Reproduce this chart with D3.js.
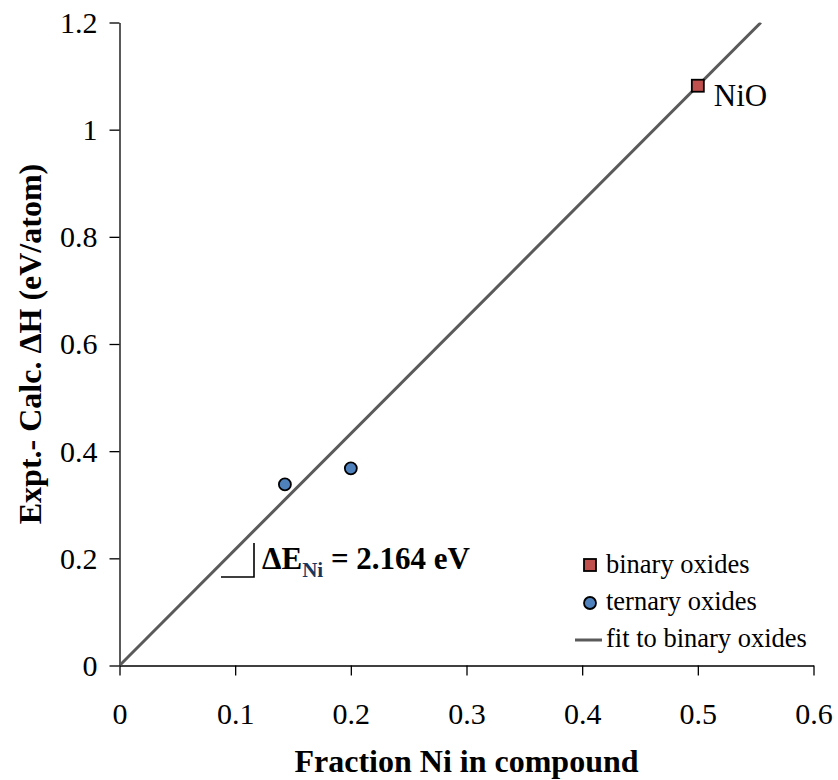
<!DOCTYPE html>
<html>
<head>
<meta charset="utf-8">
<script src="https://cdn.jsdelivr.net/npm/d3@7"></script>
</head>
<body style="margin:0;padding:0;background:#fff">
<svg id="chart" width="838" height="780" font-family="Liberation Serif" style="display:block;font-family:'Liberation Serif'"></svg>
<script>
// Binary oxide (NiO) and ternary oxides: fraction of Ni vs. formation-enthalpy error
const binaryX = [0.5];
const binaryY = [1.082];
const binaryNames = ["NiO"];
const ternaryX = [0.143, 0.2];
const ternaryY = [0.338, 0.368];
const fitSlope = 2.164;
const xTicks = [0, 0.1, 0.2, 0.3, 0.4, 0.5, 0.6];
const yTicks = [0, 0.2, 0.4, 0.6, 0.8, 1, 1.2];
const legendLabels = ["binary oxides", "ternary oxides", "fit to binary oxides"];

const FONT = "Liberation Serif";
const svg = d3.select("#chart");
const x = d3.scaleLinear().domain([0, 0.6]).range([119.5, 813.5]);
const y = d3.scaleLinear().domain([0, 1.2]).range([665.5, 22.5]);

const fmt = d => d === 0 ? "0" : d === 1 ? "1" : String(d);

// Axes
const xAxis = svg.append("g").attr("transform", `translate(0,${y(0)})`)
  .call(d3.axisBottom(x).tickValues(xTicks).tickFormat(fmt).tickSize(10).tickSizeOuter(0));
const yAxis = svg.append("g").attr("transform", `translate(${x(0)},0)`)
  .call(d3.axisLeft(y).tickValues(yTicks).tickFormat(fmt).tickSize(10).tickSizeOuter(0));
[xAxis, yAxis].forEach(g => {
  g.attr("font-family", FONT);
  g.select(".domain").attr("stroke", "#000").attr("stroke-width", 1.3);
  g.selectAll(".tick line").attr("stroke", "#000").attr("stroke-width", 1.3);
  g.selectAll(".tick text").attr("fill", "#000").attr("font-size", 30).attr("font-family", FONT);
});
xAxis.selectAll(".tick text").attr("dy", "0").attr("y", 58);
yAxis.selectAll(".tick text").attr("x", -22).attr("dy", "0.33em");

// Fit line through origin, clipped to the plot area
svg.append("clipPath").attr("id", "plotClip").append("rect")
  .attr("x", x(0)).attr("y", y(1.2)).attr("width", x(0.6) - x(0)).attr("height", y(0) - y(1.2));
const fitEndX = 1.2 / fitSlope;
svg.append("line")
  .attr("clip-path", "url(#plotClip)")
  .attr("x1", x(0)).attr("y1", y(0))
  .attr("x2", x(fitEndX)).attr("y2", y(fitSlope * fitEndX))
  .attr("stroke", "#5a5a5a").attr("stroke-width", 3);

// Slope marker
const sx0 = 221, sx1 = 254, sy0 = 543, sy1 = 577;
svg.append("path").attr("d", `M${sx0},${sy1}H${sx1}V${sy0}`)
  .attr("fill", "none").attr("stroke", "#000").attr("stroke-width", 1.6);
const slopeText = svg.append("text").attr("x", 262).attr("y", 569)
  .attr("font-family", FONT).attr("font-size", 31).attr("font-weight", "bold").attr("fill", "#000");
slopeText.append("tspan").text("ΔE");
slopeText.append("tspan").attr("dy", 8).attr("font-size", 21).attr("fill", "#17365d").text("Ni");
slopeText.append("tspan").attr("dy", -8).text(" = " + fitSlope.toFixed(3) + " eV");

// Ternary oxides
svg.selectAll(".tern").data(ternaryX).enter().append("circle")
  .attr("class", "tern")
  .attr("cx", d => x(d)).attr("cy", (d, i) => y(ternaryY[i])).attr("r", 6)
  .attr("fill", "#4f81bd").attr("stroke", "#000").attr("stroke-width", 1.8);

// Binary oxides
svg.selectAll(".bin").data(binaryX).enter().append("rect")
  .attr("class", "bin")
  .attr("x", d => x(d) - 6).attr("y", (d, i) => y(binaryY[i]) - 6)
  .attr("width", 12).attr("height", 12)
  .attr("fill", "#c0504d").attr("stroke", "#000").attr("stroke-width", 1.8);
svg.selectAll(".binLabel").data(binaryX).enter().append("text")
  .attr("x", d => x(d) + 16).attr("y", (d, i) => y(binaryY[i]) + 20)
  .attr("font-family", FONT).attr("font-size", 31).attr("fill", "#000").text((d, i) => binaryNames[i]);

// Legend
const lg = svg.append("g").attr("transform", "translate(590,565)");
lg.append("rect").attr("x", -6).attr("y", -6).attr("width", 12).attr("height", 12)
  .attr("fill", "#c0504d").attr("stroke", "#000").attr("stroke-width", 1.8);
lg.append("circle").attr("cx", 0).attr("cy", 38).attr("r", 6)
  .attr("fill", "#4f81bd").attr("stroke", "#000").attr("stroke-width", 1.8);
lg.append("line").attr("x1", -15).attr("x2", 12).attr("y1", 75).attr("y2", 75)
  .attr("stroke", "#5a5a5a").attr("stroke-width", 3);
lg.selectAll(".lt").data(legendLabels).enter().append("text")
  .attr("x", 16).attr("y", (d, i) => 8 + i * 37)
  .attr("font-family", FONT).attr("font-size", 26.5).attr("fill", "#000").text(d => d);

// Axis titles
svg.append("text").attr("x", (x(0) + x(0.6)) / 2).attr("y", 772)
  .attr("text-anchor", "middle").attr("font-family", FONT).attr("font-size", 32).attr("font-weight", "bold")
  .text("Fraction Ni in compound");
svg.append("text").attr("transform", `translate(41,${(y(0) + y(1.2)) / 2}) rotate(-90)`)
  .attr("text-anchor", "middle").attr("font-family", FONT).attr("font-size", 32).attr("font-weight", "bold")
  .text("Expt.- Calc. ΔH (eV/atom)");
</script>
</body>
</html>
